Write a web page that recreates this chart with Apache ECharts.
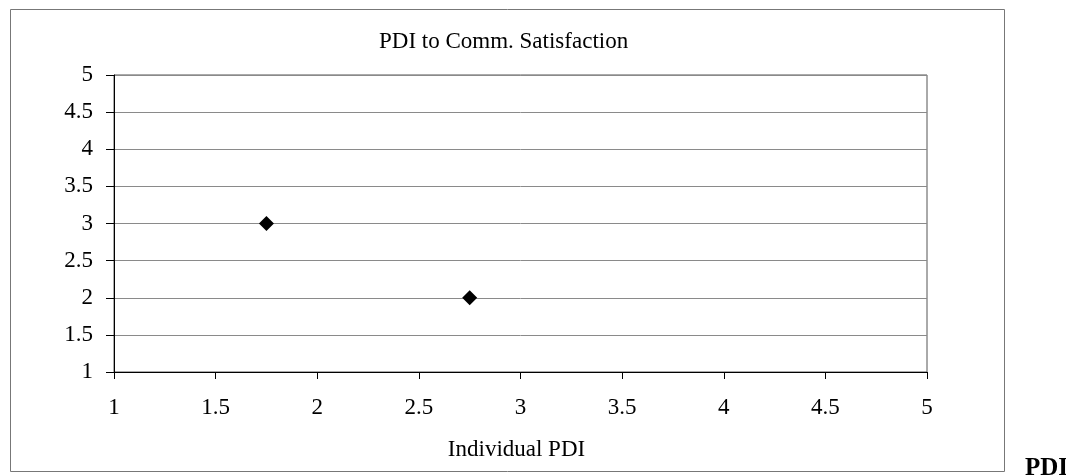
<!DOCTYPE html>
<html>
<head>
<meta charset="utf-8">
<script src="https://cdn.jsdelivr.net/npm/echarts@6/dist/echarts.min.js"></script>
<style>
  html, body { margin: 0; padding: 0; background: #fff; }
  #chart { width: 1066px; height: 476px; }
</style>
</head>
<body>
<div id="chart"></div>
<script>
// Individual PDI vs. communication satisfaction
const pdiValues = [1.75, 2.75];
const satisfactionValues = [3, 2];
const axisMin = 1;
const axisMax = 5;
const axisStep = 0.5;

const points = pdiValues.map((x, i) => [x, satisfactionValues[i]]);
const serif = '"Liberation Serif", "Times New Roman", serif';

const chart = echarts.init(document.getElementById('chart'), null, { renderer: 'canvas' });
chart.setOption({
  backgroundColor: '#fff',
  animation: false,
  title: {
    text: 'PDI to Comm. Satisfaction',
    left: 379,
    top: 30,
    padding: 0,
    textStyle: { fontFamily: serif, fontSize: 23, fontWeight: 'normal', color: '#000' }
  },
  grid: {
    left: 114, right: 139, top: 75, bottom: 104,
    show: true, borderColor: '#555', borderWidth: 1, backgroundColor: 'transparent'
  },
  xAxis: {
    type: 'value',
    min: axisMin, max: axisMax, interval: axisStep,
    name: 'Individual PDI',
    nameLocation: 'middle',
    nameGap: 66,
    nameTextStyle: { fontFamily: serif, fontSize: 23, color: '#000', padding: [0, 8, 0, 0] },
    axisLine: { show: true, onZero: false, lineStyle: { color: '#000', width: 1 } },
    axisTick: { show: true, length: 7, lineStyle: { color: '#000' } },
    axisLabel: { margin: 24, fontFamily: serif, fontSize: 23, color: '#000' },
    splitLine: { show: false }
  },
  yAxis: {
    type: 'value',
    min: axisMin, max: axisMax, interval: axisStep,
    axisLine: { show: true, onZero: false, lineStyle: { color: '#000', width: 1 } },
    axisTick: { show: true, length: 8, lineStyle: { color: '#000' } },
    axisLabel: { margin: 21, fontFamily: serif, fontSize: 23, color: '#000' },
    splitLine: { show: true, lineStyle: { color: '#8a8a8a', width: 1 } }
  },
  series: [{
    type: 'scatter',
    data: points,
    symbol: 'diamond',
    symbolSize: [15, 15],
    itemStyle: { color: '#000', opacity: 1 }
  }],
  graphic: [
    {
      type: 'rect',
      shape: { x: 10.5, y: 9.5, width: 994, height: 462 },
      style: { fill: 'none', stroke: '#777', lineWidth: 1 },
      z: -1
    },
    {
      type: 'text',
      x: 1025, y: 481,
      style: {
        text: 'PDI',
        font: 'bold 25px ' + serif,
        fill: '#000',
        textAlign: 'left',
        textVerticalAlign: 'bottom'
      }
    }
  ]
});
</script>
</body>
</html>
